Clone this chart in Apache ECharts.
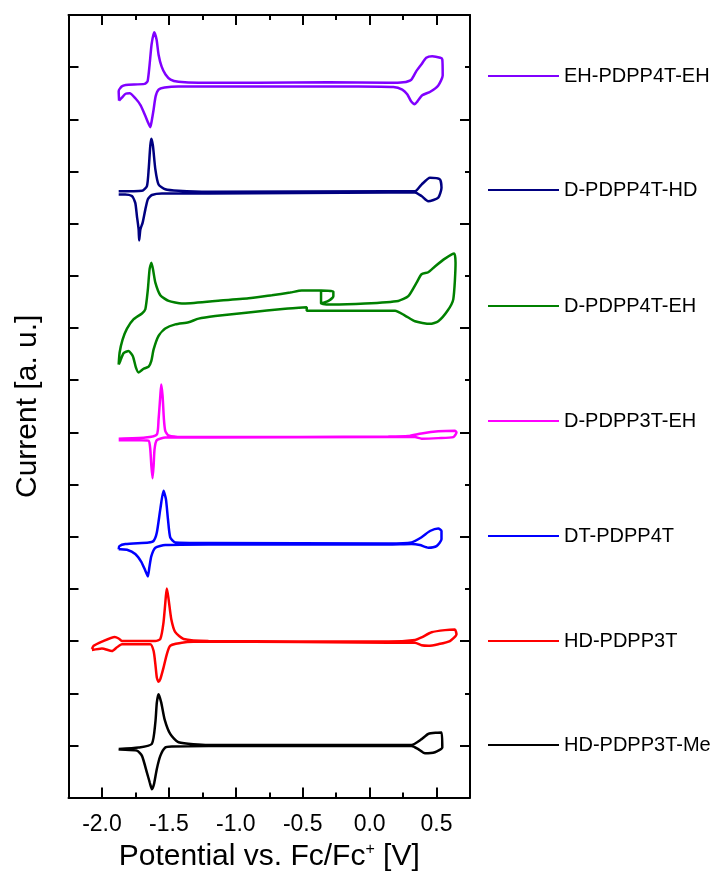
<!DOCTYPE html>
<html>
<head>
<meta charset="utf-8">
<title>CV</title>
<script src="https://cdn.jsdelivr.net/npm/echarts@6/dist/echarts.min.js"></script>
<style>
  html, body { margin: 0; padding: 0; background: #fff; }
  #chart { width: 719px; height: 877px; }
</style>
</head>
<body>
<div id="chart"></div>
<script>
// potential [V] vs. current [a.u.] (curves stacked with an offset)
const names = ['EH-PDPP4T-EH', 'D-PDPP4T-HD', 'D-PDPP4T-EH', 'D-PDPP3T-EH', 'DT-PDPP4T', 'HD-PDPP3T', 'HD-PDPP3T-Me']

const ehPdpp4tEh = [
  [-1.872, 13.36], [-1.875, 13.54], [-1.853, 13.63], [-1.823, 13.66], [-1.681, 13.68], [-1.659, 13.73],
  [-1.644, 14.05], [-1.629, 14.44], [-1.610, 14.67], [-1.592, 14.53], [-1.577, 14.24], [-1.554, 14.01],
  [-1.525, 13.86], [-1.487, 13.76], [-1.428, 13.72], [-1.278, 13.70], [-0.831, 13.70], [-0.308, 13.71],
  [0.140, 13.70], [0.251, 13.71], [0.311, 13.76], [0.348, 13.92], [0.386, 14.05], [0.423, 14.18],
  [0.468, 14.21], [0.528, 14.18], [0.543, 14.15], [0.546, 13.84], [0.513, 13.65], [0.453, 13.53],
  [0.393, 13.46], [0.356, 13.34], [0.337, 13.29], [0.311, 13.34], [0.281, 13.48], [0.244, 13.57],
  [0.177, 13.62], [-0.084, 13.63], [-0.905, 13.63], [-1.428, 13.63], [-1.532, 13.61], [-1.577, 13.57],
  [-1.599, 13.44], [-1.614, 13.19], [-1.629, 12.96], [-1.639, 12.85], [-1.659, 12.96], [-1.678, 13.08],
  [-1.711, 13.27], [-1.749, 13.40], [-1.793, 13.50], [-1.823, 13.49], [-1.853, 13.41], [-1.872, 13.36]
]

const dPdpp4tHd = [
  [-1.875, 11.62], [-1.701, 11.63], [-1.664, 11.72], [-1.651, 12.04], [-1.639, 12.49], [-1.631, 12.63],
  [-1.619, 12.49], [-1.601, 12.04], [-1.577, 11.75], [-1.527, 11.66], [-1.428, 11.63], [-1.204, 11.61],
  [0.140, 11.62], [0.339, 11.62], [0.388, 11.75], [0.451, 11.88], [0.525, 11.85], [0.537, 11.69],
  [0.513, 11.50], [0.438, 11.43], [0.388, 11.53], [0.339, 11.60], [0.140, 11.60], [-1.204, 11.58],
  [-1.552, 11.58], [-1.627, 11.55], [-1.657, 11.47], [-1.676, 11.27], [-1.696, 11.02], [-1.713, 10.89],
  [-1.722, 10.68], [-1.726, 10.89], [-1.739, 11.15], [-1.751, 11.40], [-1.776, 11.53], [-1.825, 11.56],
  [-1.875, 11.56]
]

const dPdpp4tEh = [
  [-1.875, 8.30], [-1.868, 8.53], [-1.846, 8.78], [-1.813, 8.99], [-1.763, 9.17], [-1.701, 9.28],
  [-1.676, 9.36], [-1.657, 9.74], [-1.644, 10.13], [-1.631, 10.25], [-1.619, 10.13], [-1.601, 9.87],
  [-1.564, 9.63], [-1.502, 9.52], [-1.403, 9.47], [-1.154, 9.52], [-0.905, 9.57], [-0.731, 9.63],
  [-0.594, 9.68], [-0.507, 9.72], [-0.363, 9.72], [-0.271, 9.70], [-0.271, 9.61], [-0.308, 9.52],
  [-0.363, 9.47], [-0.363, 9.72], [-0.363, 9.47], [-0.284, 9.45], [-0.034, 9.47], [0.214, 9.52],
  [0.289, 9.61], [0.351, 9.87], [0.388, 10.03], [0.438, 10.07], [0.488, 10.18], [0.563, 10.33],
  [0.632, 10.43], [0.642, 10.25], [0.625, 9.55], [0.582, 9.33], [0.513, 9.13], [0.451, 9.08],
  [0.339, 9.13], [0.264, 9.24], [0.190, 9.33], [-0.159, 9.33], [-0.470, 9.33], [-0.470, 9.40],
  [-0.631, 9.37], [-0.905, 9.30], [-1.154, 9.23], [-1.278, 9.18], [-1.353, 9.11], [-1.452, 9.07],
  [-1.527, 8.99], [-1.577, 8.85], [-1.614, 8.59], [-1.631, 8.37], [-1.651, 8.26], [-1.689, 8.22],
  [-1.726, 8.15], [-1.746, 8.24], [-1.769, 8.46], [-1.801, 8.56], [-1.838, 8.52], [-1.863, 8.37],
  [-1.875, 8.30]
]

const dPdpp3tEh = [
  [-1.875, 6.88], [-1.676, 6.90], [-1.590, 6.96], [-1.577, 7.25], [-1.564, 7.70], [-1.557, 7.92],
  [-1.547, 7.70], [-1.537, 7.25], [-1.527, 7.03], [-1.502, 6.94], [-1.403, 6.91], [-1.204, 6.91],
  [0.140, 6.92], [0.289, 6.93], [0.388, 6.98], [0.513, 7.02], [0.637, 7.03], [0.649, 7.00],
  [0.625, 6.91], [0.513, 6.89], [0.388, 6.88], [0.339, 6.91], [0.140, 6.91], [-1.204, 6.90],
  [-1.527, 6.90], [-1.590, 6.85], [-1.607, 6.68], [-1.614, 6.36], [-1.622, 6.12], [-1.631, 6.36],
  [-1.639, 6.68], [-1.651, 6.84], [-1.701, 6.85], [-1.875, 6.85]
]

const dtPdpp4t = [
  [-1.875, 4.76], [-1.870, 4.82], [-1.825, 4.86], [-1.651, 4.89], [-1.614, 4.92], [-1.590, 5.08],
  [-1.564, 5.53], [-1.540, 5.88], [-1.522, 5.72], [-1.507, 5.34], [-1.490, 4.99], [-1.452, 4.89],
  [-1.204, 4.88], [0.140, 4.87], [0.313, 4.89], [0.388, 4.99], [0.451, 5.11], [0.513, 5.16],
  [0.537, 5.11], [0.537, 4.95], [0.500, 4.82], [0.438, 4.79], [0.376, 4.84], [0.313, 4.86],
  [0.140, 4.85], [-1.204, 4.85], [-1.527, 4.84], [-1.601, 4.79], [-1.631, 4.63], [-1.646, 4.41],
  [-1.657, 4.24], [-1.676, 4.35], [-1.706, 4.52], [-1.751, 4.67], [-1.813, 4.75], [-1.863, 4.76],
  [-1.875, 4.76]
]

const hdPdpp3t = [
  [-2.075, 2.85], [-2.062, 2.91], [-2.000, 2.99], [-1.905, 3.08], [-1.875, 3.05], [-1.851, 3.00],
  [-1.601, 3.00], [-1.564, 3.04], [-1.540, 3.36], [-1.522, 3.87], [-1.515, 4.01], [-1.502, 3.80],
  [-1.482, 3.42], [-1.452, 3.17], [-1.390, 3.04], [-1.204, 3.00], [0.140, 2.99], [0.339, 3.02],
  [0.388, 3.07], [0.463, 3.17], [0.563, 3.21], [0.637, 3.22], [0.649, 3.13], [0.600, 3.00],
  [0.513, 2.94], [0.438, 2.91], [0.388, 2.92], [0.339, 2.97], [0.140, 2.97], [-1.204, 2.99],
  [-1.403, 2.97], [-1.490, 2.91], [-1.515, 2.75], [-1.540, 2.49], [-1.564, 2.27], [-1.577, 2.22],
  [-1.590, 2.30], [-1.601, 2.56], [-1.614, 2.81], [-1.639, 2.94], [-1.851, 2.94], [-1.888, 2.88],
  [-1.925, 2.81], [-2.000, 2.86], [-2.075, 2.83]
]

const hdPdpp3tMe = [
  [-1.875, 0.93], [-1.726, 0.96], [-1.627, 1.03], [-1.601, 1.44], [-1.590, 1.82], [-1.577, 1.98],
  [-1.557, 1.82], [-1.532, 1.50], [-1.490, 1.22], [-1.428, 1.06], [-1.204, 1.01], [0.140, 1.01],
  [0.313, 1.01], [0.388, 1.12], [0.438, 1.22], [0.537, 1.25], [0.543, 0.96], [0.488, 0.87],
  [0.413, 0.85], [0.363, 0.93], [0.313, 0.99], [0.140, 0.99], [-1.204, 0.99], [-1.478, 0.98],
  [-1.527, 0.96], [-1.564, 0.80], [-1.590, 0.55], [-1.612, 0.25], [-1.627, 0.16], [-1.642, 0.28],
  [-1.664, 0.48], [-1.701, 0.80], [-1.739, 0.90], [-1.863, 0.92], [-1.875, 0.93]
]

const curves = [ehPdpp4tEh, dPdpp4tHd, dPdpp4tEh, dPdpp3tEh, dtPdpp4t, hdPdpp3t, hdPdpp3tMe]

const xMajorTicks = [-2.0, -1.5, -1.0, -0.5, 0.0, 0.5]
const xMinorTicks = [-1.75, -1.25, -0.75, -0.25, 0.25]
const yMajorTicks = [1, 3, 5, 7, 9, 11, 13]
const yMinorTicks = [2, 4, 6, 8, 10, 12, 14]
const yAllTicks = [1, 2, 3, 4, 5, 6, 7, 8, 9, 10, 11, 12, 13, 14]

const colors = ['#8000ff', '#000080', '#008000', '#ff00ff', '#0000ff', '#ff0000', '#000000']
const legendY = [77, 191, 307, 422, 537, 642, 746]
const font = "'Liberation Sans', Arial, sans-serif"

const chart = echarts.init(document.getElementById('chart'))

const lineStyle = { color: '#000', width: 2 }
const xBase = { type: 'value', min: -2.25, max: 0.75, splitLine: { show: false } }
const yBase = { type: 'value', min: 0, max: 15, interval: 1, splitLine: { show: false }, axisLabel: { show: false } }

const option = {
  animation: false,
  backgroundColor: '#fff',
  grid: { left: 68.5, right: 249, top: 15, bottom: 78.5, containLabel: false },
  legend: names.map((n, i) => ({
    data: [n],
    left: 488,
    top: legendY[i] - 11,
    padding: 0,
    icon: 'rect',
    itemWidth: 71,
    itemHeight: 2,
    selectedMode: false,
    textStyle: { fontSize: 20, color: '#000', fontFamily: font }
  })),
  xAxis: [
    {
      ...xBase,
      position: 'bottom',
      name: 'Potential vs. Fc/Fc{sup|+} [V]',
      nameLocation: 'middle',
      nameGap: 43,
      nameTextStyle: {
        fontSize: 30, color: '#000', fontFamily: font,
        rich: { sup: { fontSize: 16, verticalAlign: 'top', padding: [0, 0, 15, 0], fontFamily: font, color: '#000' } }
      },
      axisLine: { show: true, onZero: false, lineStyle },
      axisTick: { show: true, inside: true, length: 10, customValues: xMajorTicks, lineStyle },
      axisLabel: {
        show: true, customValues: xMajorTicks, margin: 16,
        fontSize: 23, color: '#000', fontFamily: font,
        formatter: v => v.toFixed(1)
      }
    },
    {
      ...xBase,
      position: 'bottom',
      axisLine: { show: false, onZero: false },
      axisTick: { show: true, inside: true, length: 5, customValues: xMinorTicks, lineStyle },
      axisLabel: { show: false }
    },
    {
      ...xBase,
      position: 'top',
      axisLine: { show: true, onZero: false, lineStyle },
      axisTick: { show: true, inside: true, length: 10, customValues: xMajorTicks, lineStyle },
      axisLabel: { show: false }
    },
    {
      ...xBase,
      position: 'top',
      axisLine: { show: false, onZero: false },
      axisTick: { show: true, inside: true, length: 5, customValues: xMinorTicks, lineStyle },
      axisLabel: { show: false }
    }
  ],
  yAxis: [
    {
      ...yBase,
      position: 'left',
      name: 'Current [a. u.]',
      nameLocation: 'middle',
      nameGap: 26,
      nameTextStyle: { fontSize: 30, color: '#000', fontFamily: font },
      axisLine: { show: true, onZero: false, lineStyle },
      axisTick: { show: true, inside: true, length: 10, customValues: yAllTicks, lineStyle }
    },
    {
      ...yBase,
      position: 'right',
      axisLine: { show: true, onZero: false, lineStyle },
      axisTick: { show: true, inside: true, length: 10, customValues: yMajorTicks, lineStyle }
    },
    {
      ...yBase,
      position: 'right',
      axisLine: { show: false, onZero: false },
      axisTick: { show: true, inside: true, length: 5, customValues: yMinorTicks, lineStyle }
    }
  ],
  series: curves.map((d, i) => ({
    name: names[i],
    type: 'line',
    data: d,
    xAxisIndex: 0,
    yAxisIndex: 0,
    symbol: 'none',
    showSymbol: false,
    smooth: 0.2,
    color: colors[i],
    itemStyle: { color: colors[i] },
    lineStyle: { color: colors[i], width: 2.5 }
  }))
}

chart.setOption(option)
</script>
</body>
</html>
